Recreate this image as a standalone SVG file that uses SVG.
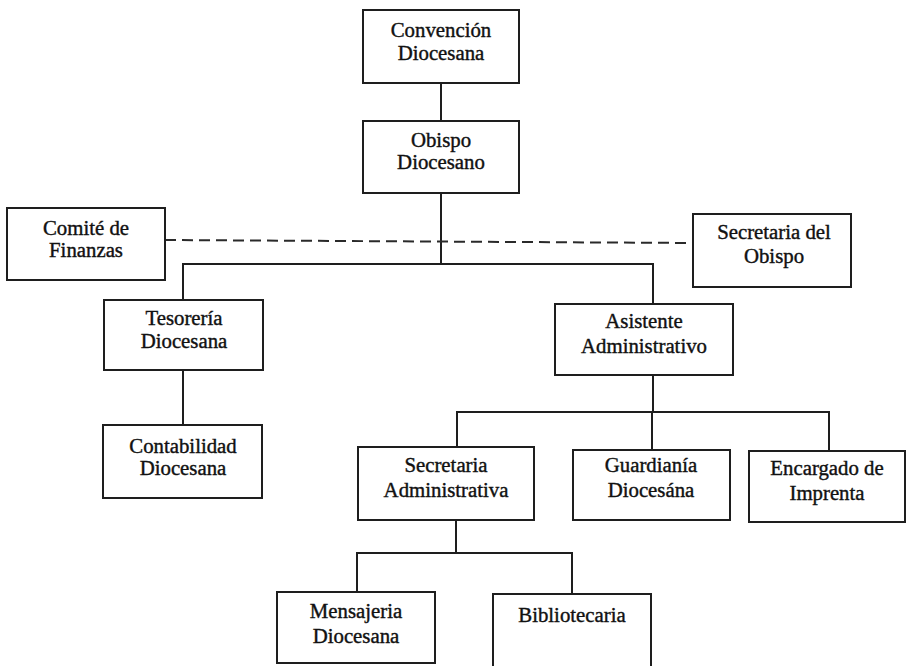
<svg xmlns="http://www.w3.org/2000/svg" width="907" height="666" viewBox="0 0 907 666">
  <style>
    .box { fill: #ffffff; stroke: #1e1e1e; stroke-width: 2; }
    .lbl { font-family: "Liberation Serif", "Times New Roman", serif; font-size: 20.8px; fill: #111; stroke: #111; stroke-width: 0.4; text-anchor: middle; }
    .wire { fill: none; stroke: #1e1e1e; stroke-width: 2; }
    .dash { fill: none; stroke: #2a2a2a; stroke-width: 2; stroke-dasharray: 11 6; }
  </style>
  <rect width="907" height="666" fill="#ffffff"/>

  <g id="connectors">
    <line class="wire" x1="441" y1="83" x2="441" y2="121"/>
    <line class="wire" x1="441" y1="193" x2="441" y2="265"/>
    <polyline class="wire" points="183,300 183,264 653,264 653,304"/>
    <line class="wire" x1="183" y1="370" x2="183" y2="425"/>
    <line class="wire" x1="653" y1="375" x2="653" y2="412"/>
    <polyline class="wire" points="457,447 457,412 829,412 829,451"/>
    <line class="wire" x1="652" y1="412" x2="652" y2="450"/>
    <line class="wire" x1="456" y1="520" x2="456" y2="553"/>
    <polyline class="wire" points="357,592 357,553 572,553 572,594"/>
    <line class="dash" x1="165" y1="240" x2="693" y2="243"/>
  </g>

  <g id="convencion">
    <rect class="box" x="363" y="10" width="156" height="73"/>
    <text class="lbl" x="441" y="37">Convención</text>
    <text class="lbl" x="441" y="60">Diocesana</text>
  </g>
  <g id="obispo">
    <rect class="box" x="363" y="121" width="156" height="72"/>
    <text class="lbl" x="441" y="147">Obispo</text>
    <text class="lbl" x="441" y="169">Diocesano</text>
  </g>
  <g id="comite">
    <rect class="box" x="7" y="208" width="158" height="72"/>
    <text class="lbl" x="86" y="235">Comité de</text>
    <text class="lbl" x="86" y="257">Finanzas</text>
  </g>
  <g id="secretaria-obispo">
    <rect class="box" x="693" y="214" width="158" height="73"/>
    <text class="lbl" x="774" y="239">Secretaria del</text>
    <text class="lbl" x="774" y="263">Obispo</text>
  </g>
  <g id="tesoreria">
    <rect class="box" x="104" y="300" width="159" height="70"/>
    <text class="lbl" x="184" y="325">Tesorería</text>
    <text class="lbl" x="184" y="348">Diocesana</text>
  </g>
  <g id="contabilidad">
    <rect class="box" x="103" y="425" width="159" height="73"/>
    <text class="lbl" x="183" y="453">Contabilidad</text>
    <text class="lbl" x="183" y="475">Diocesana</text>
  </g>
  <g id="asistente">
    <rect class="box" x="555" y="304" width="178" height="71"/>
    <text class="lbl" x="644" y="328">Asistente</text>
    <text class="lbl" x="644" y="353">Administrativo</text>
  </g>
  <g id="secretaria-administrativa">
    <rect class="box" x="358" y="447" width="176" height="73"/>
    <text class="lbl" x="446" y="472">Secretaria</text>
    <text class="lbl" x="446" y="497">Administrativa</text>
  </g>
  <g id="guardiania">
    <rect class="box" x="573" y="450" width="157" height="70"/>
    <text class="lbl" x="651" y="472">Guardianía</text>
    <text class="lbl" x="651" y="497">Diocesána</text>
  </g>
  <g id="imprenta">
    <rect class="box" x="749" y="451" width="156" height="71"/>
    <text class="lbl" x="827" y="475">Encargado de</text>
    <text class="lbl" x="827" y="500">Imprenta</text>
  </g>
  <g id="mensajeria">
    <rect class="box" x="277" y="592" width="158" height="71"/>
    <text class="lbl" x="356" y="618">Mensajeria</text>
    <text class="lbl" x="356" y="643">Diocesana</text>
  </g>
  <g id="bibliotecaria">
    <rect class="box" x="493" y="594" width="158" height="76"/>
    <text class="lbl" x="572" y="622">Bibliotecaria</text>
  </g>
</svg>
